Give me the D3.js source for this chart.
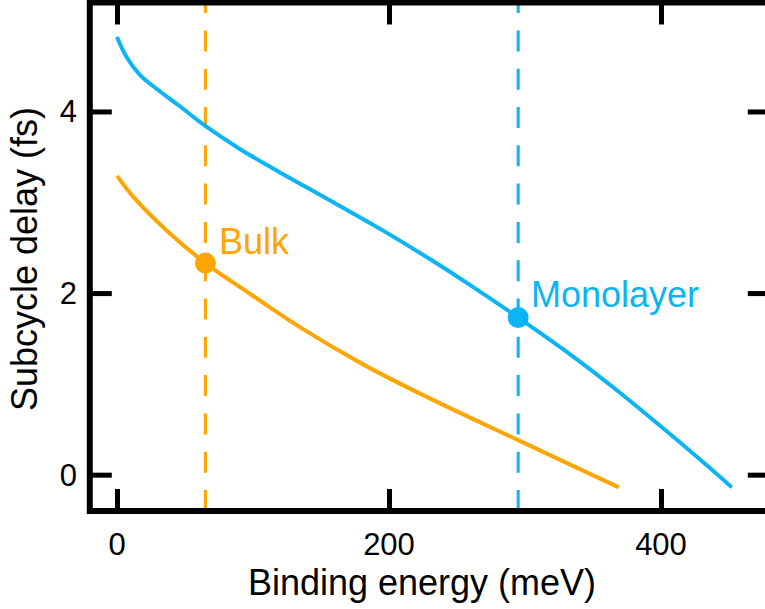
<!DOCTYPE html>
<html>
<head>
<meta charset="utf-8">
<script src="https://cdn.jsdelivr.net/npm/d3@7"></script>
<style>
  html, body { margin: 0; padding: 0; background: #fff; }
  svg { display: block; }
  text { font-family: "Liberation Sans", Arial, sans-serif; }
</style>
</head>
<body>
<svg id="chart" width="765" height="609"></svg>
<script>
// ---- data ----
const xTicks = [0, 200, 400];
const yTicks = [0, 2, 4];

const monoEnergy = [0, 7, 17, 29, 46, 65, 90, 115, 159, 196, 230, 260, 295, 330, 365, 400, 430, 452];
const monoDelay  = [4.82, 4.60, 4.40, 4.25, 4.06, 3.84, 3.59, 3.37, 3.00, 2.685, 2.375, 2.085, 1.73, 1.36, 0.96, 0.53, 0.15, -0.14];

const bulkEnergy = [0, 12, 36.5, 65, 98, 135, 184, 230, 295, 369];
const bulkDelay  = [3.29, 3.06, 2.69, 2.33, 1.99, 1.62, 1.19, 0.84, 0.38, -0.14];

const bulkMarker = [65, 2.33];
const monoMarker = [295, 1.73];

const labels = ["Bulk", "Monolayer"];
const colors = { bulk: "#FFA500", mono: "#0AB4F5" };

// ---- scales ----
const x = d3.scaleLinear().domain([-20, 480]).range([89.8, 769.8]);
const y = d3.scaleLinear().domain([-0.4, 5.2]).range([511, 2.5]);

const svg = d3.select("#chart");

// dashed reference lines (drawn bottom to top)
function vline(e, color) {
  svg.append("line")
    .attr("x1", x(e)).attr("x2", x(e))
    .attr("y1", y(-0.4)).attr("y2", y(5.2))
    .attr("stroke", color).attr("stroke-width", 3)
    .attr("stroke-dasharray", "21,17.3");
}
vline(bulkMarker[0], colors.bulk);
vline(monoMarker[0], colors.mono);

// curves
const line = d3.line().x(d => x(d[0])).y(d => y(d[1])).curve(d3.curveCatmullRom.alpha(0.5));
svg.append("path")
  .datum(bulkEnergy.map((e, i) => [e, bulkDelay[i]]))
  .attr("d", line).attr("fill", "none")
  .attr("stroke", colors.bulk).attr("stroke-width", 4);
svg.append("path")
  .datum(monoEnergy.map((e, i) => [e, monoDelay[i]]))
  .attr("d", line).attr("fill", "none")
  .attr("stroke", colors.mono).attr("stroke-width", 4);

// markers
svg.append("circle").attr("cx", x(bulkMarker[0])).attr("cy", y(bulkMarker[1]))
  .attr("r", 10.5).attr("fill", colors.bulk);
svg.append("circle").attr("cx", x(monoMarker[0])).attr("cy", y(monoMarker[1]))
  .attr("r", 10.5).attr("fill", colors.mono);

// labels
svg.append("text").attr("x", 219).attr("y", 254)
  .attr("font-size", 36).attr("fill", colors.bulk).text(labels[0]);
svg.append("text").attr("x", 531).attr("y", 307)
  .attr("font-size", 36).attr("fill", colors.mono).text(labels[1]);

// axes (ticks inward on all sides)
const tickLen = 22;
const xb = d3.axisBottom(x).tickValues(xTicks).tickSize(-tickLen).tickFormat("");
const xt = d3.axisTop(x).tickValues(xTicks).tickSize(-tickLen).tickFormat("");
const yl = d3.axisLeft(y).tickValues(yTicks).tickSize(-tickLen).tickFormat("");
const yr = d3.axisRight(y).tickValues(yTicks).tickSize(-tickLen).tickFormat("");

function styleAxis(g) {
  g.select(".domain").remove();
  g.selectAll(".tick line").attr("stroke", "#000").attr("stroke-width", 5);
}
svg.append("g").attr("transform", `translate(0,${y(-0.4)})`).call(xb).call(styleAxis);
svg.append("g").attr("transform", `translate(0,${y(5.2)})`).call(xt).call(styleAxis);
svg.append("g").attr("transform", `translate(${x(-20)},0)`).call(yl).call(styleAxis);
svg.append("g").attr("transform", `translate(${x(480)},0)`).call(yr).call(styleAxis);

// frame
svg.append("rect")
  .attr("x", x(-20)).attr("y", y(5.2))
  .attr("width", x(480) - x(-20)).attr("height", y(-0.4) - y(5.2))
  .attr("fill", "none").attr("stroke", "#000").attr("stroke-width", 6);

// tick labels
svg.selectAll(".xtl").data(xTicks).enter().append("text")
  .attr("x", d => x(d)).attr("y", 555)
  .attr("text-anchor", "middle").attr("font-size", 31).attr("fill", "#000")
  .text(d => d);
svg.selectAll(".ytl").data(yTicks).enter().append("text")
  .attr("x", 77).attr("y", d => y(d) + 11)
  .attr("text-anchor", "end").attr("font-size", 31).attr("fill", "#000")
  .text(d => d);

// axis titles
svg.append("text").attr("x", 422).attr("y", 595)
  .attr("text-anchor", "middle").attr("font-size", 36).attr("fill", "#000")
  .text("Binding energy (meV)");
svg.append("text")
  .attr("transform", "translate(37,259) rotate(-90)")
  .attr("text-anchor", "middle").attr("font-size", 36).attr("fill", "#000")
  .text("Subcycle delay (fs)");
</script>
</body>
</html>
